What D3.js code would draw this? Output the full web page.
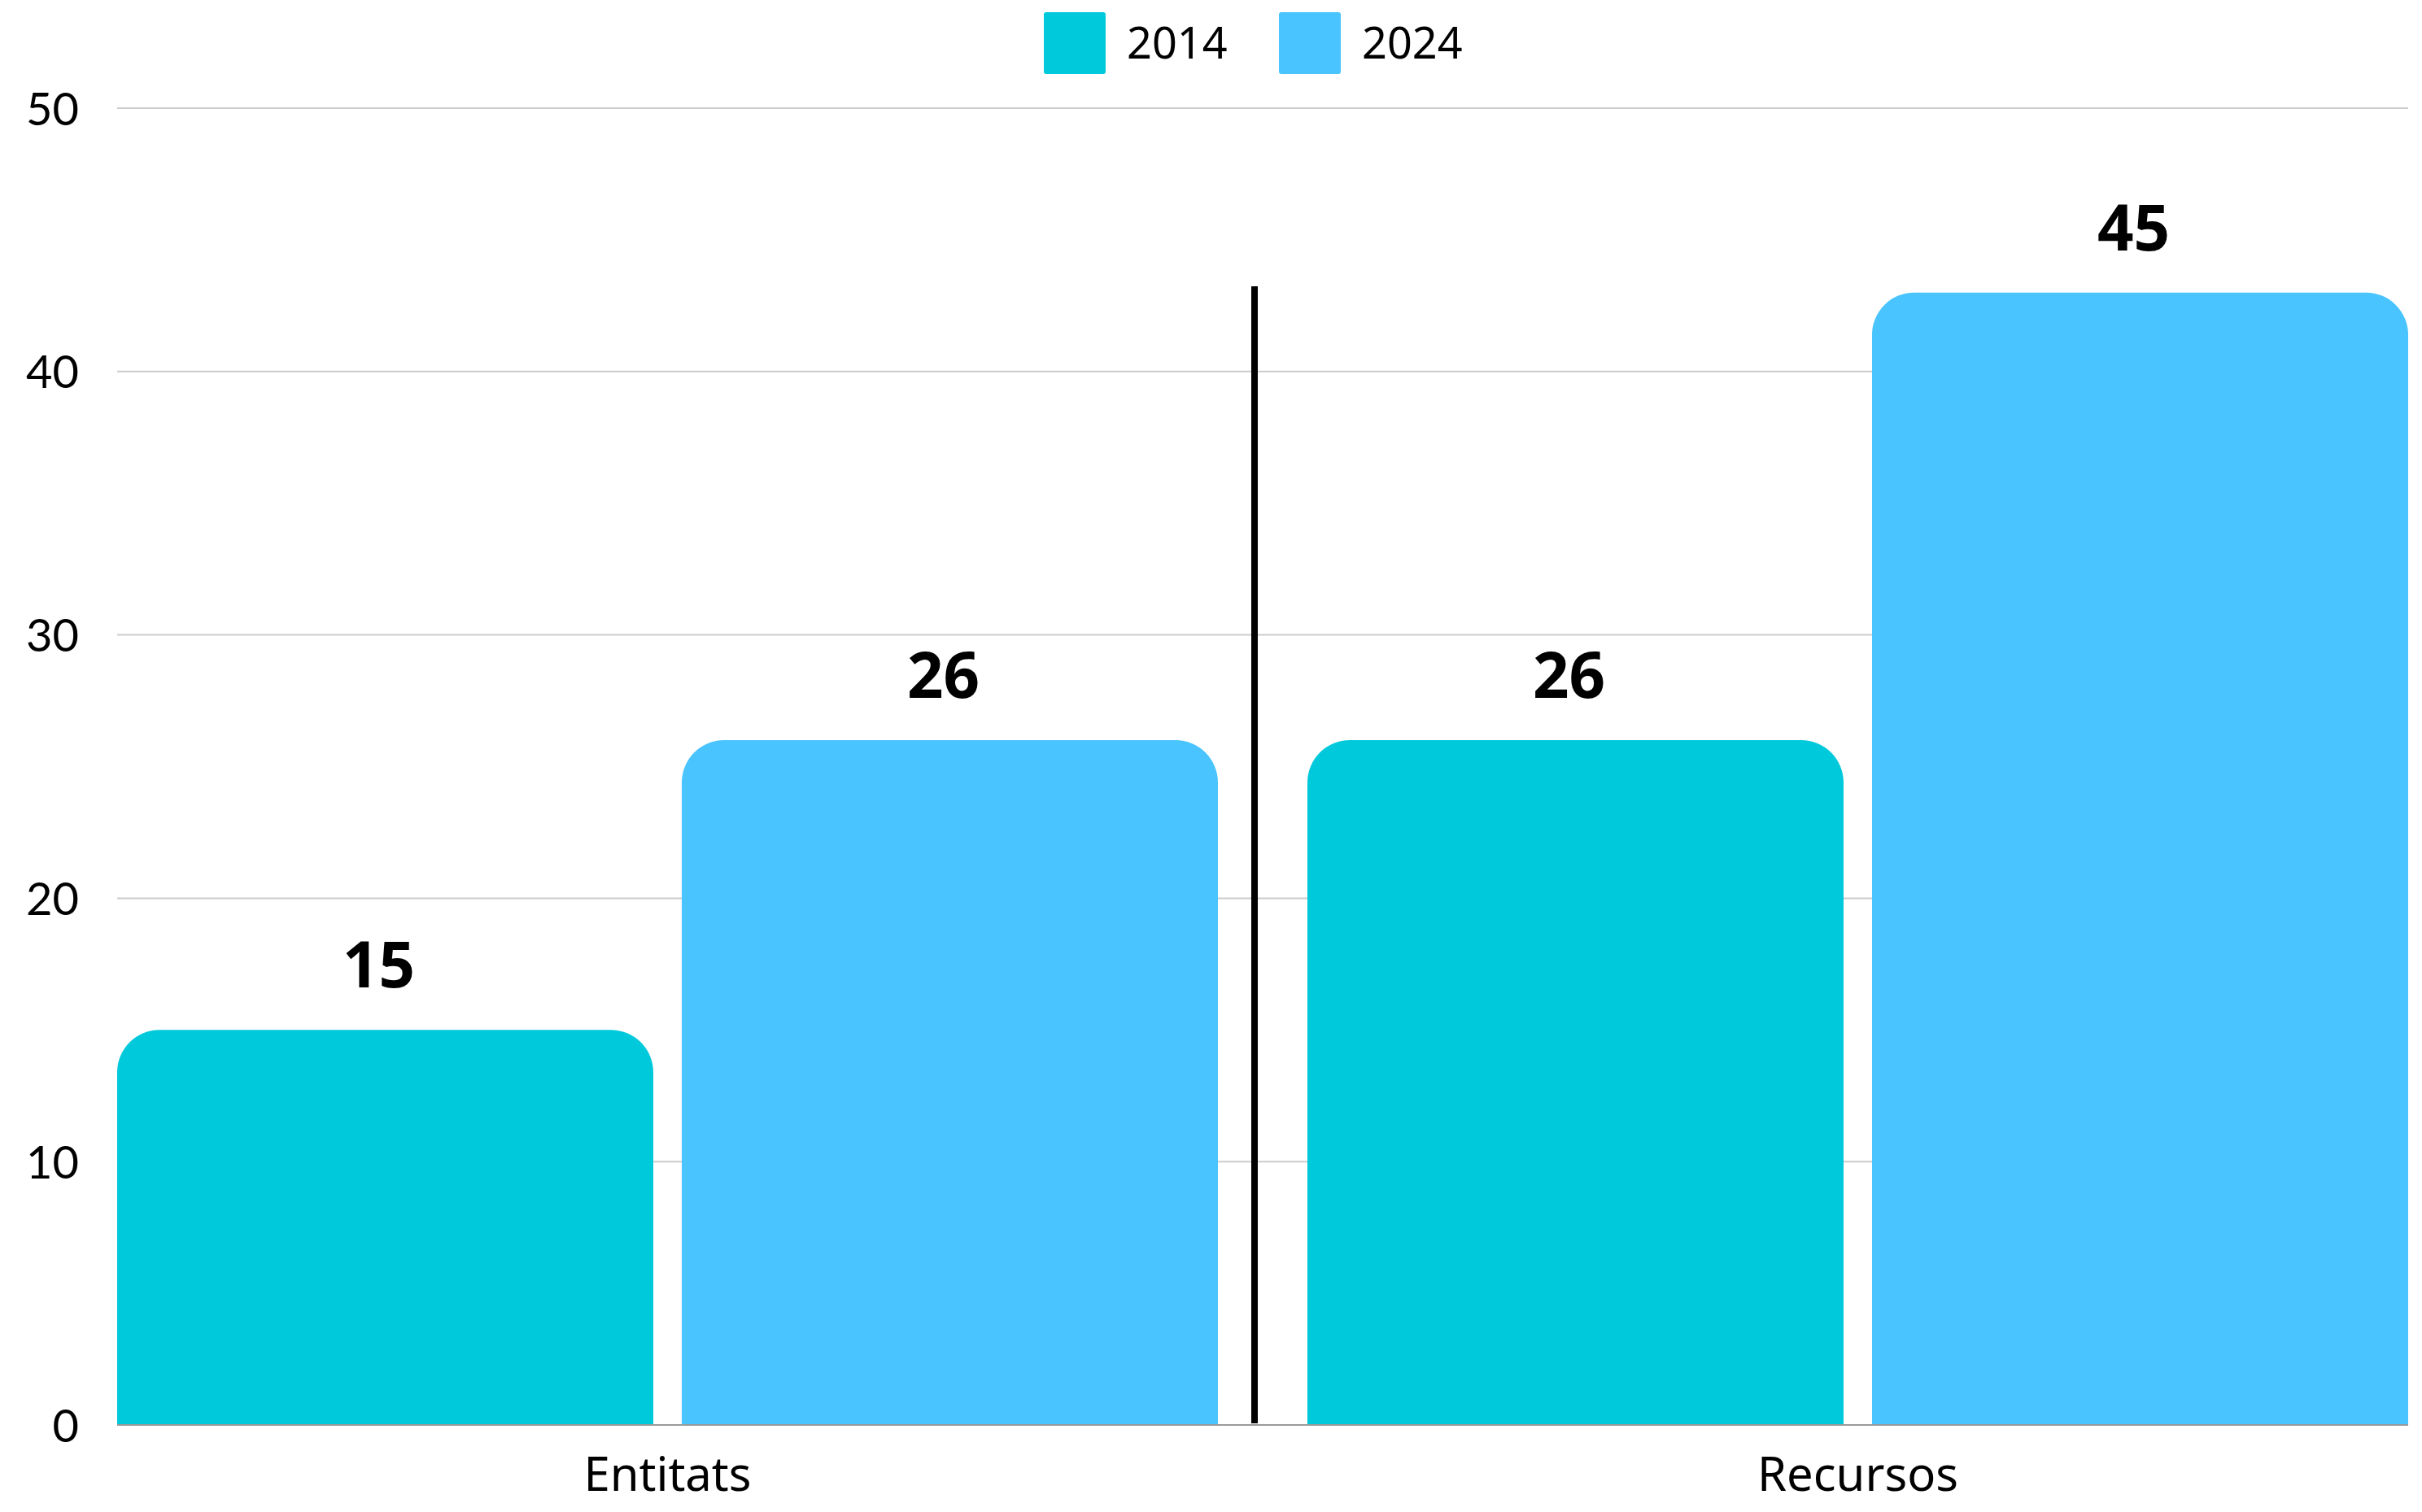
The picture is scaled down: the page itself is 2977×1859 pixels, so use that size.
<!DOCTYPE html>
<html>
<head>
<meta charset="utf-8">
<script src="https://cdn.jsdelivr.net/npm/d3@7"></script>
<style>
  html, body { margin: 0; padding: 0; background: #fff; }
  svg { display: block; }
</style>
</head>
<body>
<svg id="chart" width="2977" height="1859"></svg>
<script>
// ---- data ----
const categories = ["Entitats", "Recursos"];
const seriesNames = ["2014", "2024"];
const values2014 = [15, 26];          // bar heights as drawn
const values2024 = [26, 43];          // bar heights as drawn
const labels2014 = ["15", "26"];      // value labels as printed
const labels2024 = ["26", "45"];
const yTicks = [0, 10, 20, 30, 40, 50];
const colors = ["#00C9DB", "#49C4FE"];

// ---- layout ----
const W = 2977, H = 1859;
const margin = { left: 144, right: 17, top: 133, bottom: 107 };
const svg = d3.select("#chart");

const y = d3.scaleLinear().domain([0, 50]).range([H - margin.bottom, margin.top]);
const x0 = d3.scaleBand().domain(categories)
  .range([margin.left, W - margin.right]).paddingInner(0.0752).paddingOuter(0);
const x1 = d3.scaleBand().domain(seriesNames)
  .range([0, x0.bandwidth()]).paddingInner(0.0504).paddingOuter(0);

// gridlines
svg.append("g").selectAll("line").data(yTicks.filter(d => d > 0)).join("line")
  .attr("x1", margin.left).attr("x2", W - margin.right)
  .attr("y1", d => y(d)).attr("y2", d => y(d))
  .attr("stroke", "#cccccc").attr("stroke-width", 2);

// y axis tick labels
const yAxis = d3.axisLeft(y).tickValues(yTicks).tickSize(0).tickPadding(47);
const gy = svg.append("g").attr("transform", `translate(${margin.left},0)`).call(yAxis);
gy.select(".domain").remove();
gy.selectAll("text")
  .attr("font-family", "Lato, 'Noto Sans', sans-serif")
  .attr("font-size", 56).attr("fill", "#000").attr("dy", "0.36em");

// bars
const rows = [];
categories.forEach((c, i) => {
  rows.push({ cat: c, s: seriesNames[0], v: values2014[i], lab: labels2014[i], col: colors[0] });
  rows.push({ cat: c, s: seriesNames[1], v: values2024[i], lab: labels2024[i], col: colors[1] });
});

function topRounded(x, yTop, w, yBase, r) {
  const rr = Math.min(r, w / 2, yBase - yTop);
  return `M${x},${yBase}V${yTop + rr}A${rr},${rr} 0 0 1 ${x + rr},${yTop}` +
         `H${x + w - rr}A${rr},${rr} 0 0 1 ${x + w},${yTop + rr}V${yBase}Z`;
}

svg.append("g").selectAll("path").data(rows).join("path")
  .attr("d", d => topRounded(x0(d.cat) + x1(d.s), y(d.v), x1.bandwidth(), y(0), 52))
  .attr("fill", d => d.col);

// value labels
svg.append("g").selectAll("text").data(rows).join("text")
  .attr("x", d => x0(d.cat) + x1(d.s) + x1.bandwidth() / 2 - 8)
  .attr("y", d => y(d.v) - 52)
  .attr("text-anchor", "middle")
  .attr("font-family", "'Open Sans', sans-serif")
  .attr("font-weight", 700).attr("font-size", 78).attr("fill", "#000")
  .text(d => d.lab);

// baseline
svg.append("line")
  .attr("x1", margin.left).attr("x2", W - margin.right)
  .attr("y1", y(0)).attr("y2", y(0))
  .attr("stroke", "#9a9a9a").attr("stroke-width", 2);

// separator between categories
const sepX = x0(categories[1]) - x0.step() * x0.paddingInner() / 2 - 10;
svg.append("line")
  .attr("x1", sepX).attr("x2", sepX)
  .attr("y1", 352).attr("y2", y(0) - 2)
  .attr("stroke", "#000").attr("stroke-width", 8);

// category labels
svg.append("g").selectAll("text").data(categories).join("text")
  .attr("x", d => x0(d) + x0.bandwidth() / 2)
  .attr("y", 1833)
  .attr("text-anchor", "middle")
  .attr("font-family", "'Noto Sans', 'Open Sans', sans-serif")
  .attr("font-size", 58).attr("fill", "#000")
  .text(d => d);

// legend
const legendX = [1283, 1572];
const lg = svg.append("g").selectAll("g").data(seriesNames).join("g")
  .attr("transform", (d, i) => `translate(${legendX[i]},15)`);
lg.append("rect").attr("width", 76).attr("height", 76).attr("rx", 3)
  .attr("fill", (d, i) => colors[i]);
lg.append("text").attr("x", 102).attr("y", 57)
  .attr("font-family", "'Noto Sans', 'Open Sans', sans-serif")
  .attr("font-size", 54).attr("fill", "#000")
  .text(d => d);
</script>
</body>
</html>
